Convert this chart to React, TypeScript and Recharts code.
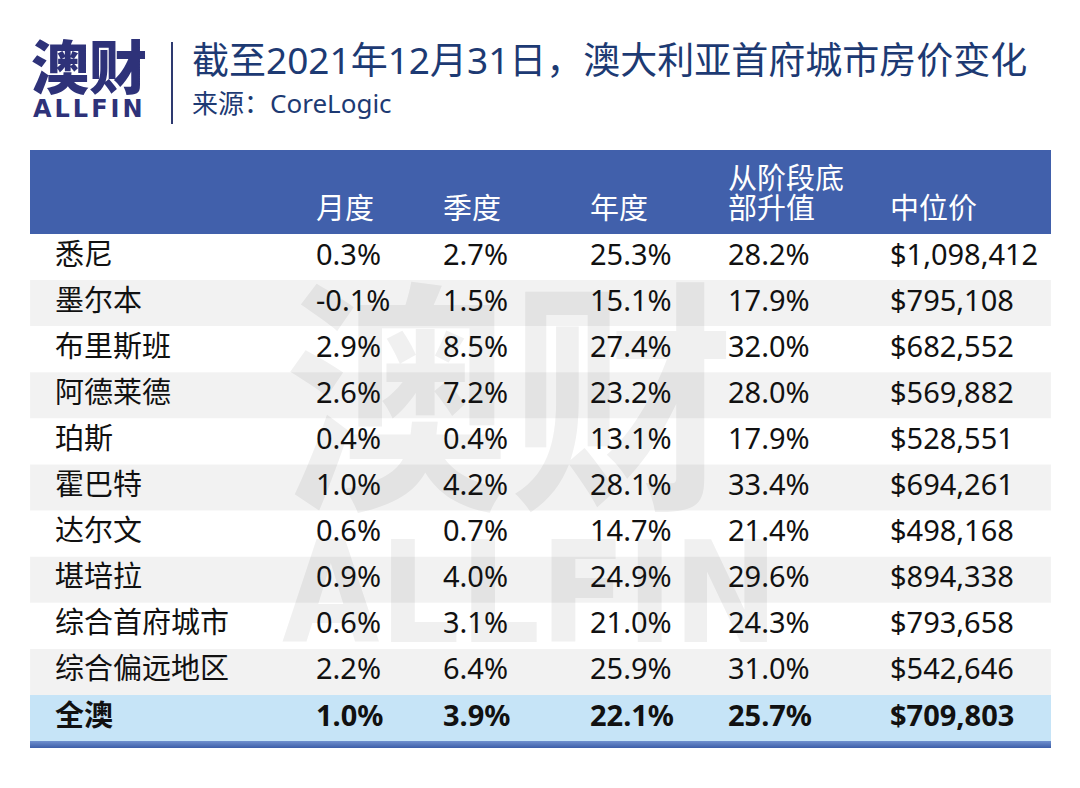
import React from 'react';
import { ComposedChart, Bar, Cell, Scatter, XAxis, YAxis } from 'recharts';

const cities = ['悉尼', '墨尔本', '布里斯班', '阿德莱德', '珀斯', '霍巴特', '达尔文', '堪培拉', '综合首府城市', '综合偏远地区', '全澳'];
const monthly = [0.3, -0.1, 2.9, 2.6, 0.4, 1.0, 0.6, 0.9, 0.6, 2.2, 1.0];
const quarterly = [2.7, 1.5, 8.5, 7.2, 0.4, 4.2, 0.7, 4.0, 3.1, 6.4, 3.9];
const annual = [25.3, 15.1, 27.4, 23.2, 13.1, 28.1, 14.7, 24.9, 21.0, 25.9, 22.1];
const fromTrough = [28.2, 17.9, 32.0, 28.0, 17.9, 33.4, 21.4, 29.6, 24.3, 31.0, 25.7];
const median = [1098412, 795108, 682552, 569882, 528551, 694261, 498168, 894338, 793658, 542646, 709803];
const headers = [[''], ['月度'], ['季度'], ['年度'], ['从阶段底', '部升值'], ['中位价']];

const TABLE_W = 1021;
const HEAD_H = 84;
const ROW_H = 46.1;
const colX = [25, 286, 413, 560, 698, 860];
const FONT = "'Noto Sans', 'Noto Sans CJK SC', sans-serif";
const CJK = "'Noto Sans CJK SC', 'Noto Sans', sans-serif";

const pct = (v: number) => `${v.toFixed(1)}%`;
const money = (v: number) => '$' + v.toLocaleString('en-US');

const columns: string[][] = [
  cities,
  monthly.map(pct),
  quarterly.map(pct),
  annual.map(pct),
  fromTrough.map(pct),
  median.map(money),
];

const rows = cities.map((name) => ({ name, band: TABLE_W }));
const lastIdx = cities.length - 1;

// white / light grey stripes, light blue for the total row
const rowFill = (i: number) => {
  if (i === lastIdx) return '#c6e4f7';
  return i % 2 === 1 ? 'rgba(0,0,0,0.05)' : 'rgba(0,0,0,0)';
};

const CellText = (props: any) => {
  const { cx, cy, payload } = props;
  if (cx == null || cy == null) return null;
  return (
    <text
      x={cx}
      y={cy}
      dy={-4}
      dominantBaseline="central"
      textAnchor="start"
      fontFamily={FONT}
      fontSize={29}
      fontWeight={payload.bold ? 700 : 400}
      fill="#111"
    >
      {payload.label}
    </text>
  );
};

const HeaderTick = (props: any) => {
  const { x, y, index } = props;
  const lines = headers[index] || [''];
  const base = y - 13;
  return (
    <g>
      {lines.map((ln, k) => (
        <text
          key={k}
          x={x}
          y={base - (lines.length - 1 - k) * 30}
          textAnchor="start"
          fontFamily={CJK}
          fontSize={29}
          fill="#ffffff"
        >
          {ln}
        </text>
      ))}
    </g>
  );
};

export default function App() {
  return (
    <div
      style={{
        position: 'absolute',
        left: 0,
        top: 0,
        width: 1080,
        height: 788,
        background: '#ffffff',
        overflow: 'hidden',
        fontFamily: FONT,
      }}
    >
      {/* logo */}
      <div
        style={{
          position: 'absolute',
          left: 31,
          top: 35,
          fontFamily: CJK,
          fontSize: 58,
          fontWeight: 900,
          lineHeight: 1,
          color: '#2e3279',
        }}
      >
        澳财
      </div>
      <div
        style={{
          position: 'absolute',
          left: 33,
          top: 97,
          fontFamily: "'DejaVu Sans', sans-serif",
          fontSize: 24,
          fontWeight: 700,
          lineHeight: 1,
          color: '#2e3279',
          letterSpacing: 3,
        }}
      >
        ALLFIN
      </div>
      <div style={{ position: 'absolute', left: 171, top: 42, width: 2, height: 82, background: '#2e3a70' }} />

      {/* title */}
      <div
        style={{
          position: 'absolute',
          left: 192,
          top: 40,
          fontSize: 37,
          lineHeight: 1.1,
          color: '#1d3a73',
          whiteSpace: 'nowrap',
        }}
      >
        截至2021年12月31日，澳大利亚首府城市房价变化
      </div>
      <div
        style={{
          position: 'absolute',
          left: 192,
          top: 89,
          fontSize: 26,
          lineHeight: 1.1,
          color: '#1d3a73',
          whiteSpace: 'nowrap',
        }}
      >
        来源：CoreLogic
      </div>

      {/* header band */}
      <div style={{ position: 'absolute', left: 30, top: 150, width: TABLE_W, height: HEAD_H, background: '#4160ab' }} />

      {/* watermark */}
      <div
        style={{
          position: 'absolute',
          left: 284,
          top: 262,
          fontFamily: CJK,
          fontSize: 245,
          fontWeight: 700,
          lineHeight: 1,
          color: '#f0f0f0',
          whiteSpace: 'nowrap',
          transform: 'scaleX(0.92)',
          transformOrigin: 'left top',
        }}
      >
        澳财
      </div>
      <div
        style={{
          position: 'absolute',
          left: 282,
          top: 524,
          fontFamily: "'DejaVu Sans', sans-serif",
          fontSize: 140,
          fontWeight: 700,
          lineHeight: 1,
          color: '#f0f0f0',
          whiteSpace: 'nowrap',
          transform: 'scaleX(0.9)',
          transformOrigin: 'left top',
        }}
      >
        ALLFIN
      </div>

      {/* table */}
      <div style={{ position: 'absolute', left: 30, top: 150 }}>
        <ComposedChart
          layout="vertical"
          width={TABLE_W}
          height={HEAD_H + ROW_H * cities.length}
          data={rows}
          margin={{ top: 0, right: 0, bottom: 0, left: 0 }}
          barCategoryGap={0}
          barGap={0}
        >
          <XAxis
            type="number"
            dataKey="x"
            orientation="top"
            domain={[0, TABLE_W]}
            allowDataOverflow
            ticks={colX}
            interval={0}
            height={HEAD_H}
            axisLine={false}
            tickLine={false}
            tickSize={0}
            tick={<HeaderTick />}
          />
          <YAxis type="category" dataKey="name" allowDuplicatedCategory={false} hide />
          <Bar dataKey="band" isAnimationActive={false}>
            {rows.map((_, i) => (
              <Cell key={i} fill={rowFill(i)} />
            ))}
          </Bar>
          {columns.map((col, c) => (
            <Scatter
              key={c}
              data={cities.map((name, i) => ({ name, x: colX[c], label: col[i], bold: i === lastIdx }))}
              shape={<CellText />}
              isAnimationActive={false}
            />
          ))}
        </ComposedChart>
      </div>

      {/* bottom rule */}
      <div
        style={{
          position: 'absolute',
          left: 30,
          top: 741,
          width: TABLE_W,
          height: 7,
          background: 'linear-gradient(#6f90cf, #3d5ea8)',
        }}
      />
    </div>
  );
}
